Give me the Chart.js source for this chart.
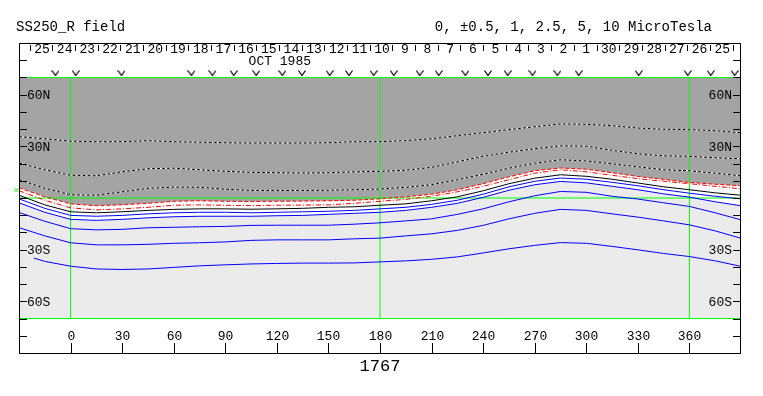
<!DOCTYPE html>
<html>
<head>
<meta charset="utf-8">
<script src="https://cdn.jsdelivr.net/npm/chart.js@4/dist/chart.umd.min.js"></script>
<style>
  html, body { margin: 0; padding: 0; background: #fff; }
  canvas { display: block; }
</style>
</head>
<body>
<canvas id="myChart" width="763" height="396"></canvas>
<script>
// longitude grid shared by the contour lines (Carrington longitude, deg)
var lons = [-30, -15, 0, 15, 30, 45, 60, 75, 90, 105, 120, 135, 150, 165, 180, 195,
            210, 225, 240, 255, 270, 285, 300, 315, 330, 345, 360, 375, 390];

// negative contours (dotted, in the dark region)
var neg1 = [35.6, 34.4, 33.0, 32.7, 32.7, 33.3, 32.7, 32.4, 32.1, 31.9, 31.9, 31.9, 32.1, 32.7, 32.7, 33.3,
            34.4, 36.2, 37.9, 39.7, 41.4, 43.0, 42.8, 42.0, 40.6, 39.9, 39.7, 39.1, 37.9];
var neg2 = [20.3, 16.4, 13.2, 12.9, 15.2, 17.0, 17.3, 16.4, 15.5, 14.9, 14.7, 14.5, 14.7, 15.2, 15.5, 16.1,
            17.8, 21.0, 24.2, 26.6, 28.6, 30.3, 30.1, 27.7, 25.7, 24.5, 24.2, 23.4, 22.8];
var neg3 = [10.6, 5.6, 1.9, 1.6, 3.6, 5.6, 6.3, 6.2, 5.1, 4.4, 4.4, 4.4, 4.5, 4.8, 5.2, 6.2,
            7.7, 10.6, 13.8, 17.3, 20.2, 22.2, 21.5, 19.9, 18.1, 16.4, 15.8, 14.4, 12.9];
// +-0.5 contours (red)
var half1 = [5.9, 0.7, -3.4, -4.5, -3.9, -3.1, -1.9, -1.6, -1.9, -2.0, -1.9, -1.8, -1.6, -1.3, -0.5, 0.7,
             2.2, 4.8, 8.3, 12.3, 15.8, 17.4, 16.7, 14.7, 12.5, 10.8, 9.0, 8.0, 7.1];
var half2 = [4.2, -1.3, -5.7, -6.9, -6.3, -5.4, -4.2, -4.0, -4.2, -4.4, -4.2, -4.1, -4.0, -3.1, -1.9, -0.8,
             1.0, 3.6, 6.8, 10.6, 14.4, 16.4, 15.2, 13.2, 11.2, 9.7, 8.3, 6.8, 5.3];
// neutral line (black)
var zero = [1.6, -4.0, -8.0, -8.6, -8.0, -7.2, -6.6, -6.3, -6.3, -6.5, -6.3, -6.0, -5.4, -5.1, -4.2, -3.4,
            -1.6, 0.7, 4.2, 8.3, 11.5, 13.5, 12.6, 10.9, 8.7, 6.5, 4.8, 3.0, 1.6];
// positive contours (blue)
var pos1 = [-0.5, -6.0, -10.1, -10.6, -10.1, -9.2, -8.6, -8.3, -8.3, -8.6, -8.3, -8.0, -7.7, -7.2, -6.3, -5.4,
            -3.7, -1.3, 2.2, 6.5, 9.7, 11.6, 10.9, 9.1, 7.1, 4.8, 2.8, 1.0, -0.5];
var pos2 = [-2.8, -8.3, -12.4, -13.0, -12.4, -11.5, -10.9, -10.6, -10.6, -10.6, -10.3, -10.1, -9.5, -8.9, -8.3, -7.2,
            -5.4, -3.1, 0.4, 4.5, 7.7, 9.6, 8.8, 6.8, 4.8, 2.4, 0.5, -2.2, -4.5];
var pos3 = [-8.4, -13.5, -17.8, -18.5, -18.2, -17.3, -17.0, -16.7, -16.5, -15.9, -15.8, -15.8, -15.8, -15.2, -14.4, -13.3,
            -12.1, -9.5, -6.3, -2.2, 1.3, 3.8, 3.3, 1.0, -0.6, -2.8, -4.9, -8.6, -12.7];
var pos4 = [-17.2, -22.0, -26.0, -27.2, -27.2, -26.9, -26.3, -26.0, -25.5, -24.6, -24.3, -24.3, -24.3, -23.7, -23.3, -22.0,
            -20.8, -18.8, -15.9, -12.1, -8.9, -6.6, -7.2, -9.2, -11.1, -13.3, -15.6, -19.1, -23.4];
// outermost contour starts a little inside the left edge
var pos5Lons = [-21.4, -15, 0, 15, 30, 45, 60, 75, 90, 105, 120, 135, 150, 165, 180, 195,
                210, 225, 240, 255, 270, 285, 300, 315, 330, 345, 360, 375, 390];
var pos5 = [-34.9, -36.8, -39.6, -41.2, -41.5, -41.2, -40.3, -39.4, -38.8, -38.3, -38.0, -37.8, -37.8, -37.7, -37.1, -36.5,
            -35.6, -34.2, -31.9, -29.5, -27.5, -25.9, -26.3, -28.1, -30.1, -32.2, -34.0, -36.5, -39.7];

// observation markers along the top strip
var obsLons = [-8.8, 3.0, 29.6, 70.3, 82.5, 94.9, 108.0, 123.2, 134.6, 150.7, 162.0, 176.3, 188.0,
               203.1, 214.2, 229.7, 242.8, 254.3, 268.7, 283.2, 295.6, 330.5, 359.0, 372.4, 386.3];
var obsLat = 72.6;

// map frame
var mapLatEdges = [70, 0, -70];
var mapLonLines = [0, 180, 360];
var lonMin = -30, lonMax = 390;

// axis labels
var lonTicks = [0, 30, 60, 90, 120, 150, 180, 210, 240, 270, 300, 330, 360];
var latTicks = [-80, -70, -60, -50, -40, -30, -20, -10, 0, 10, 20, 30, 40, 50, 60, 70, 80];
var latLabelVals = [60, 30, -30, -60];
var latLabelText = ['60N', '30N', '30S', '60S'];
var dayLabels = ['25', '24', '23', '22', '21', '20', '19', '18', '17', '16', '15', '14', '13', '12', '11', '10',
                 '9', '8', '7', '6', '5', '4', '3', '2', '1', '30', '29', '28', '27', '26', '25'];
var dayStartLon = -23.8, dayWidth = 13.19;
var monthLabel = 'OCT 1985', monthLon = 121.7;
var rotation = '1767';

function pts(xs, ys) {
    return xs.map(function (x, i) { return { x: x, y: ys[i] }; });
}
function flat(lat) {
    return [{ x: lonMin, y: lat }, { x: lonMax, y: lat }];
}

// small "v" glyph for the observation markers
var vMark = document.createElement('canvas');
vMark.width = 8; vMark.height = 6;
(function () {
    var c = vMark.getContext('2d');
    c.strokeStyle = '#000'; c.lineWidth = 1.2;
    c.beginPath(); c.moveTo(0.5, 0.5); c.lineTo(4, 5.5); c.lineTo(7.5, 0.5); c.stroke();
})();

var datasets = [];
// 0: top edge of map (fill target)
datasets.push({ data: flat(mapLatEdges[0]), borderWidth: 0, fill: false, order: 100 });
// 1: bottom edge of map (fill target)
datasets.push({ data: flat(mapLatEdges[2]), borderWidth: 0, fill: false, order: 100 });
// dark region above the -0.5 contour
datasets.push({ data: pts(lons, half1), borderWidth: 0, fill: 0, backgroundColor: '#a4a4a4', order: 90 });
// light region below the second positive contour
datasets.push({ data: pts(lons, pos2), borderWidth: 0, fill: 1, backgroundColor: '#ebebeb', order: 90 });

// green frame lines
mapLatEdges.forEach(function (lat) {
    datasets.push({ data: flat(lat), borderColor: '#00ff00', borderWidth: 1, order: 50 });
});
mapLonLines.forEach(function (lon) {
    datasets.push({ data: [{ x: lon, y: mapLatEdges[2] }, { x: lon, y: mapLatEdges[0] }],
                    borderColor: '#00ff00', borderWidth: 1, order: 50 });
});

// dotted negative contours: white base, black dashes on top
[neg1, neg2, neg3].forEach(function (d) {
    datasets.push({ data: pts(lons, d), borderColor: '#ffffff', borderWidth: 1, order: 20 });
    datasets.push({ data: pts(lons, d), borderColor: '#000000', borderWidth: 1, borderDash: [3, 2], order: 19 });
});
datasets.push({ data: pts(lons, half1), borderColor: '#ff0000', borderWidth: 1, borderDash: [4, 2], order: 10 });
datasets.push({ data: pts(lons, half2), borderColor: '#ff0000', borderWidth: 1, borderDash: [5, 2, 1, 2], order: 10 });
datasets.push({ data: pts(lons, zero), borderColor: '#000000', borderWidth: 1, order: 10 });
[pos1, pos2, pos3, pos4].forEach(function (d) {
    datasets.push({ data: pts(lons, d), borderColor: '#0000ff', borderWidth: 1, order: 10 });
});
datasets.push({ data: pts(pos5Lons, pos5), borderColor: '#0000ff', borderWidth: 1, order: 10 });

// observation markers
datasets.push({ data: obsLons.map(function (x) { return { x: x, y: obsLat }; }),
                showLine: false, pointStyle: vMark, pointRadius: 4, order: 5 });
// sub-observer marker just outside the left edge
datasets.push({ data: [{ x: -31.5, y: 4.6 }], showLine: false, pointStyle: 'crossRot',
                pointRadius: 3, borderColor: '#00ff00', borderWidth: 1, clip: false, order: 5 });

var mono = '"Liberation Mono", "DejaVu Sans Mono", monospace';

var framePlugin = {
    id: 'frame',
    afterDraw: function (chart) {
        var ctx = chart.ctx, a = chart.chartArea;
        var xs = chart.scales.x, ys = chart.scales.y;
        var L = Math.round(a.left), R = Math.round(a.right), T = Math.round(a.top), B = Math.round(a.bottom);
        ctx.save();
        ctx.strokeStyle = '#000';
        ctx.fillStyle = '#000';
        ctx.lineWidth = 1;
        ctx.strokeRect(L + 0.5, T + 0.5, R - L - 1, B - T);

        // latitude ticks and labels on both sides
        ctx.font = '13px ' + mono;
        ctx.textBaseline = 'middle';
        latTicks.forEach(function (lat) {
            var py = Math.round(ys.getPixelForValue(lat)) + 0.5;
            ctx.beginPath();
            ctx.moveTo(L, py); ctx.lineTo(L + 8, py);
            ctx.moveTo(R - 8, py); ctx.lineTo(R, py);
            ctx.stroke();
        });
        latLabelVals.forEach(function (lat, i) {
            var py = ys.getPixelForValue(lat) + 1;
            ctx.textAlign = 'left';
            ctx.fillText(latLabelText[i], L + 8, py);
            ctx.textAlign = 'right';
            ctx.fillText(latLabelText[i], R - 9, py);
        });

        // longitude ticks and labels along the bottom
        ctx.textAlign = 'center';
        lonTicks.forEach(function (lon) {
            var px = Math.round(xs.getPixelForValue(lon)) + 0.5;
            ctx.beginPath();
            ctx.moveTo(px, B); ctx.lineTo(px, B - 10);
            ctx.stroke();
            ctx.fillText(String(lon), px, B - 16);
        });

        // day strip along the top
        dayLabels.forEach(function (d, i) {
            var x0 = Math.round(xs.getPixelForValue(dayStartLon + i * dayWidth)) + 0.5;
            ctx.beginPath();
            ctx.moveTo(x0, T + 2); ctx.lineTo(x0, T + 8);
            ctx.stroke();
            ctx.fillText(d, xs.getPixelForValue(dayStartLon + (i + 0.5) * dayWidth) + 1, T + 7);
        });
        var xEnd = Math.round(xs.getPixelForValue(dayStartLon + dayLabels.length * dayWidth)) + 0.5;
        ctx.beginPath(); ctx.moveTo(xEnd, T + 2); ctx.lineTo(xEnd, T + 8); ctx.stroke();
        ctx.fillText(monthLabel, xs.getPixelForValue(monthLon), T + 19);

        // titles
        ctx.font = '14px ' + mono;
        ctx.textAlign = 'left';
        ctx.fillText('SS250_R field', 16, 27);
        ctx.textAlign = 'right';
        ctx.fillText('0, \u00b10.5, 1, 2.5, 5, 10 MicroTesla', 712, 27);
        ctx.font = '17px ' + mono;
        ctx.textAlign = 'center';
        ctx.fillText(rotation, xs.getPixelForValue(180), B + 13);
        ctx.restore();
    }
};

var chart = new Chart(document.getElementById('myChart').getContext('2d'), {
    type: 'line',
    data: { datasets: datasets },
    options: {
        responsive: false,
        animation: false,
        layout: { padding: { left: 19, right: 22, top: 43, bottom: 43 } },
        elements: { point: { radius: 0 }, line: { tension: 0 } },
        plugins: { legend: { display: false }, tooltip: { enabled: false } },
        scales: {
            x: { type: 'linear', min: lonMin, max: lonMax, display: false },
            y: { type: 'linear', min: -90, max: 90, display: false }
        }
    },
    plugins: [framePlugin]
});
</script>
</body>
</html>
